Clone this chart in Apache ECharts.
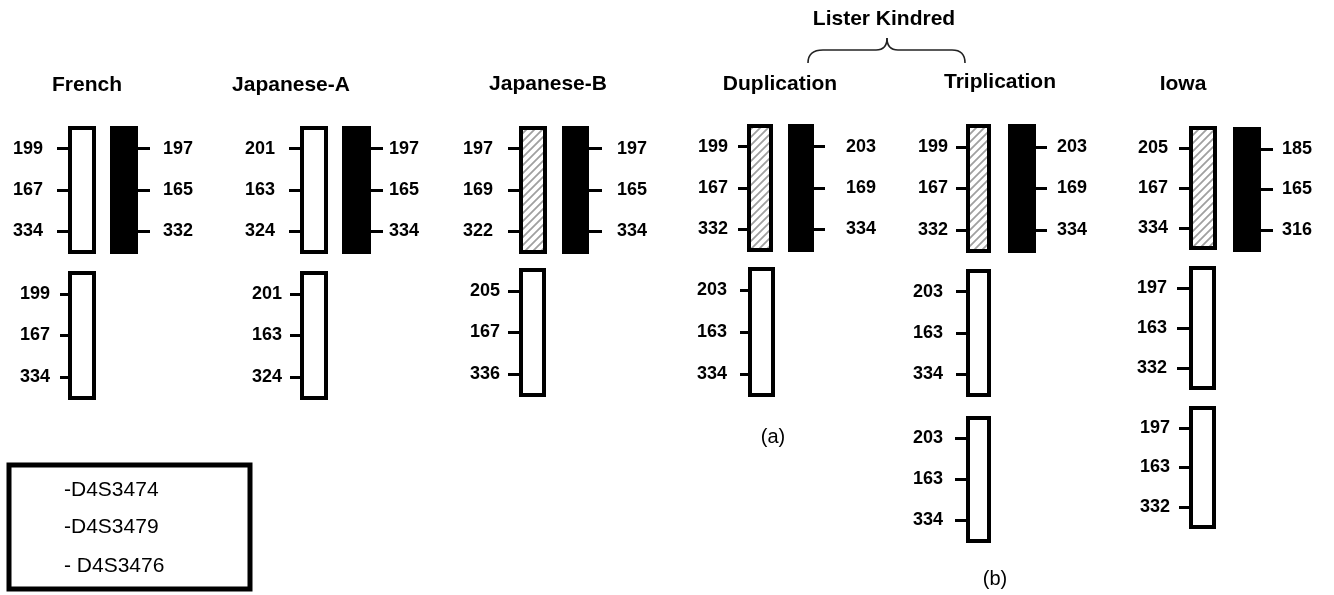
<!DOCTYPE html>
<html><head><meta charset="utf-8">
<script src="https://cdn.jsdelivr.net/npm/echarts@6/dist/echarts.min.js"></script>
<style>html,body{margin:0;padding:0;background:#fff}#c{width:1334px;height:595px}</style>
</head><body><div id="c"></div>
<script>
// ---- data (text labels) ----
const groupNames = ['French', 'Japanese-A', 'Japanese-B', 'Duplication', 'Triplication', 'Iowa'];
const kindredLabel = 'Lister Kindred';
const panelLabels = ['(a)', '(b)'];
const markerNames = ['-D4S3474', '-D4S3479', '- D4S3476'];

const frenchTop = ['199', '167', '334'];
const frenchBlack = ['197', '165', '332'];
const frenchLow = ['199', '167', '334'];
const japATop = ['201', '163', '324'];
const japABlack = ['197', '165', '334'];
const japALow = ['201', '163', '324'];
const japBTop = ['197', '169', '322'];
const japBBlack = ['197', '165', '334'];
const japBLow = ['205', '167', '336'];
const dupTop = ['199', '167', '332'];
const dupBlack = ['203', '169', '334'];
const dupLow = ['203', '163', '334'];
const triTop = ['199', '167', '332'];
const triBlack = ['203', '169', '334'];
const triLow1 = ['203', '163', '334'];
const triLow2 = ['203', '163', '334'];
const iowaTop = ['205', '167', '334'];
const iowaBlack = ['185', '165', '316'];
const iowaLow1 = ['197', '163', '332'];
const iowaLow2 = ['197', '163', '332'];

// ---- layout (pixel positions / styles only) ----
// [labels, fill, side, x0, x1, y0, y1, tickOuterX, labelEdgeX]
const layout = [
  [frenchTop,  'white', 'left',   68,   96, 126, 254,   57,   43],
  [frenchBlack,'black', 'right', 110,  138, 126, 254,  150,  163],
  [frenchLow,  'white', 'left',   68,   96, 271, 400,   60,   50],
  [japATop,    'white', 'left',  300,  328, 126, 254,  289,  275],
  [japABlack,  'black', 'right', 342,  371, 126, 254,  383,  389],
  [japALow,    'white', 'left',  300,  328, 271, 400,  290,  282],
  [japBTop,    'hatch', 'left',  519,  547, 126, 254,  508,  493],
  [japBBlack,  'black', 'right', 562,  589, 126, 254,  602,  617],
  [japBLow,    'white', 'left',  519,  546, 268, 397,  508,  500],
  [dupTop,     'hatch', 'left',  747,  773, 124, 252,  738,  728],
  [dupBlack,   'black', 'right', 788,  814, 124, 252,  825,  846],
  [dupLow,     'white', 'left',  748,  775, 267, 397,  740,  727],
  [triTop,     'hatch', 'left',  966,  991, 124, 253,  956,  948],
  [triBlack,   'black', 'right',1008, 1036, 124, 253, 1047, 1057],
  [triLow1,    'white', 'left',  966,  991, 269, 397,  956,  943],
  [triLow2,    'white', 'left',  966,  991, 416, 543,  955,  943],
  [iowaTop,    'hatch', 'left', 1189, 1217, 126, 250, 1179, 1168],
  [iowaBlack,  'black', 'right',1233, 1261, 127, 252, 1273, 1282],
  [iowaLow1,   'white', 'left', 1189, 1216, 266, 390, 1177, 1167],
  [iowaLow2,   'white', 'left', 1189, 1216, 406, 529, 1179, 1170]
];
const groupCenters = [[87, 85], [291, 85], [548, 84], [780, 84], [1000, 82], [1183, 84]];
const panelPos = [[773, 437], [995, 579]];
const markerPos = [[64, 490], [64, 527], [64, 566]];

const FONT = '"Liberation Sans", Arial, sans-serif';
const BW = 4;

// hatch pattern ("/" diagonal grey lines)
const T = 8;
const pc = document.createElement('canvas');
pc.width = T; pc.height = T;
const g = pc.getContext('2d');
g.fillStyle = '#fff'; g.fillRect(0, 0, T, T);
g.strokeStyle = '#a0a0a0'; g.lineWidth = 1.8;
g.beginPath();
g.moveTo(-1, T + 1); g.lineTo(T + 1, -1);
g.moveTo(-1, 1); g.lineTo(1, -1);
g.moveTo(T - 1, T + 1); g.lineTo(T + 1, T - 1);
g.stroke();
const hatchFill = { image: pc, repeat: 'repeat' };

const grids = [], xAxes = [], yAxes = [], series = [];
layout.forEach((c, i) => {
  const [labels, fill, side, x0, x1, y0, y1, tickOuter, labelEdge] = c;
  const left = x0 + BW / 2, top = y0 + BW / 2;
  const w = (x1 - x0) - BW, h = (y1 - y0) - BW;
  const axisX = side === 'left' ? left : left + w;
  const tickLen = Math.abs(axisX - tickOuter);
  const margin = Math.abs(axisX - labelEdge);
  grids.push({
    left: left, top: top, width: w, height: h, show: true,
    borderColor: '#000', borderWidth: BW,
    backgroundColor: fill === 'hatch' ? hatchFill : (fill === 'black' ? '#000' : '#fff')
  });
  xAxes.push({ gridIndex: i, type: 'value', show: false, min: 0, max: 1 });
  yAxes.push({
    gridIndex: i, type: 'category', data: labels, inverse: true, position: side,
    boundaryGap: true,
    axisLine: { show: false, onZero: false },
    axisTick: { show: true, alignWithLabel: true, inside: false, length: tickLen, lineStyle: { color: '#000', width: 3 } },
    axisLabel: { show: true, margin: margin, color: '#000', fontSize: 18, fontWeight: 'bold', fontFamily: FONT },
    splitLine: { show: false }
  });
  series.push({ type: 'scatter', xAxisIndex: i, yAxisIndex: i, data: [], silent: true });
});

const graphics = [];
const txt = (x, y, t, font, align) => ({ type: 'text', x: x, y: y, silent: true,
  style: { text: t, fill: '#000', font: font, textAlign: align, textVerticalAlign: 'middle', align: align, verticalAlign: 'middle' } });
groupNames.forEach((n, i) => graphics.push(txt(groupCenters[i][0], groupCenters[i][1], n, 'bold 21px ' + FONT, 'center')));
graphics.push(txt(884, 19, kindredLabel, 'bold 21px ' + FONT, 'center'));
// curly brace
const braceStyle = { fill: null, stroke: '#222', lineWidth: 1.6 };
const bz = (x1, y1, cx1, cy1, cx2, cy2, x2, y2) => ({ type: 'bezierCurve', silent: true,
  shape: { x1: x1, y1: y1, cpx1: cx1, cpy1: cy1, cpx2: cx2, cpy2: cy2, x2: x2, y2: y2 }, style: braceStyle });
const ln = (x1, y1, x2, y2) => ({ type: 'line', silent: true, shape: { x1: x1, y1: y1, x2: x2, y2: y2 }, style: braceStyle });
graphics.push(bz(808, 63, 808, 55, 812, 50, 823, 50));
graphics.push(ln(823, 50, 876, 50));
graphics.push(bz(876, 50, 884, 50, 887, 45, 887, 38));
graphics.push(bz(887, 38, 887, 45, 890, 50, 898, 50));
graphics.push(ln(898, 50, 952, 50));
graphics.push(bz(952, 50, 961, 50, 965, 55, 965, 63));
panelLabels.forEach((t, i) => graphics.push(txt(panelPos[i][0], panelPos[i][1], t, '20px ' + FONT, 'center')));
graphics.push({ type: 'rect', silent: true, shape: { x: 9, y: 465, width: 241, height: 124 },
  style: { fill: null, stroke: '#000', lineWidth: 5 } });
markerNames.forEach((t, i) => graphics.push(txt(markerPos[i][0], markerPos[i][1], t, '21px ' + FONT, 'left')));

const chart = echarts.init(document.getElementById('c'));
chart.setOption({
  backgroundColor: '#fff',
  animation: false,
  grid: grids, xAxis: xAxes, yAxis: yAxes, series: series,
  graphic: { elements: graphics }
});
</script></body></html>
